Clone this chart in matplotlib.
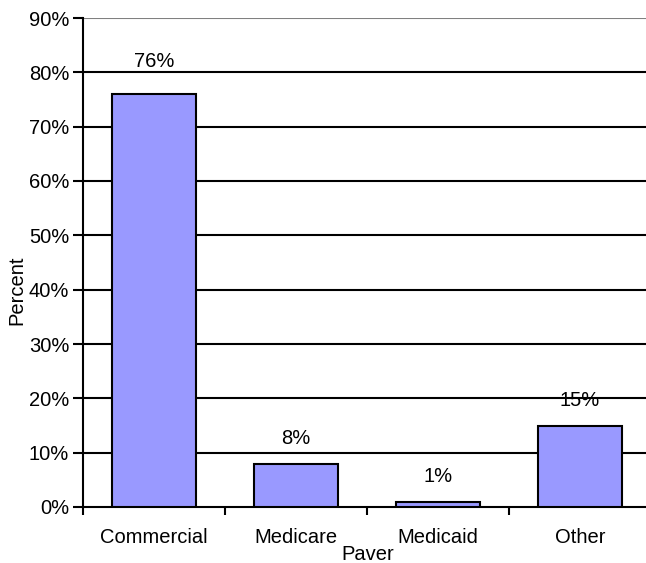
import matplotlib
matplotlib.use("Agg")
import matplotlib.pyplot as plt
from matplotlib.ticker import PercentFormatter

categories = ["Commercial", "Medicare", "Medicaid", "Other"]
values = [76, 8, 1, 15]
labels = ["76%", "8%", "1%", "15%"]

FS = 14.5
plt.rcParams['font.family'] = ['Liberation Sans', 'DejaVu Sans']
fig = plt.figure(figsize=(6.46, 5.63), dpi=100)
ax = fig.add_axes([83/646, 1-507/563, 568/646, (507-18)/563])

x = list(range(len(categories)))
ax.bar(x, values, width=0.59, color="#9999FF", edgecolor="black", linewidth=1.5, zorder=3)
for xi, v, lab in zip(x, values, labels):
    ax.annotate(lab, (xi, v), xytext=(0, 25 if v < 50 else 33), textcoords="offset pixels",
                ha="center", va="center", fontsize=FS)

ax.set_xlim(-0.5, 3.5)
ax.set_ylim(0, 90)
ax.set_yticks(range(0, 91, 10))
ax.yaxis.set_major_formatter(PercentFormatter(decimals=0))
for yv in range(10, 91, 10):
    ax.axhline(yv, color="black" if yv < 90 else "#808080", linewidth=1.5, zorder=1)

ax.set_xticks([-0.5, 0.5, 1.5, 2.5, 3.5])
ax.set_xticklabels([])
ax.set_xticks(x, minor=True)
ax.set_xticklabels(categories, minor=True, fontsize=FS)
ax.tick_params(axis="x", which="minor", length=0, pad=15)
ax.tick_params(axis="x", which="major", length=6, width=1.5, direction="out")
ax.tick_params(axis="y", length=7, width=1.5, direction="out", labelsize=FS, pad=3)

for s in ["top", "right"]:
    ax.spines[s].set_visible(False)
ax.spines["left"].set_linewidth(1.5)
ax.spines["bottom"].set_linewidth(1.5)

fig.text(17/646, 1-290/563, "Percent", rotation=90, ha="center", va="center", fontsize=FS)
fig.text(368/646, 1-555/563, "Paver", ha="center", va="center", fontsize=FS)

fig.savefig("out.png", dpi=100)
